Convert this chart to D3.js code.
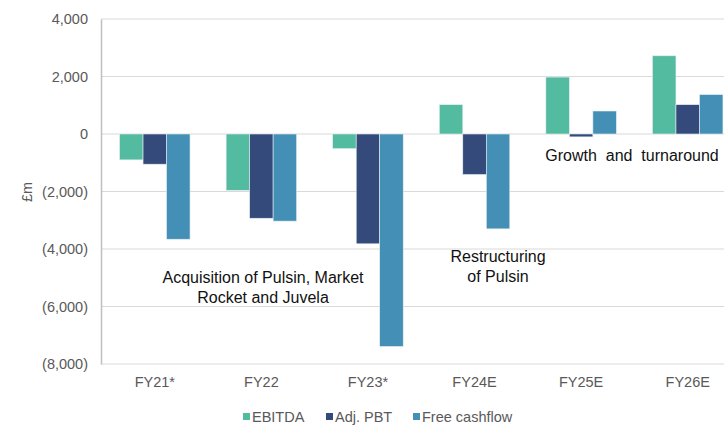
<!DOCTYPE html>
<html>
<head>
<meta charset="utf-8">
<script src="https://cdn.jsdelivr.net/npm/d3@7"></script>
<style>
body { margin: 0; background: #fff; }
svg { display: block; font-family: "Liberation Sans", Arial, sans-serif; }
</style>
</head>
<body>
<script>
var categories = ["FY21*", "FY22", "FY23*", "FY24E", "FY25E", "FY26E"];
var seriesNames = ["EBITDA", "Adj. PBT", "Free cashflow"];
var ebitda = [-900, -1960, -510, 1020, 1980, 2720];
var adjPbt = [-1050, -2930, -3820, -1410, -100, 1020];
var freeCash = [-3660, -3030, -7390, -3300, 800, 1370];
var yTicks = [4000, 2000, 0, -2000, -4000, -6000, -8000];
var colors = ["#52BBA0", "#334A7A", "#448FB5"];

var width = 724, height = 426;
var svg = d3.select("body").append("svg")
	.attr("width", width)
	.attr("height", height);

var x0 = d3.scaleBand()
	.domain(categories)
	.range([101.5, 741]);
var x1 = d3.scaleBand()
	.domain(seriesNames)
	.range([0, 70.5]);
var y = d3.scaleLinear()
	.domain([-8000, 4000])
	.range([364, 19]);

var fmt = function (d) {
	var s = d3.format(",")(Math.abs(d));
	return d < 0 ? "(" + s + ")" : s;
};

// gridlines
svg.append("g")
	.selectAll("line")
	.data(yTicks)
	.join("line")
	.attr("x1", 101)
	.attr("x2", width)
	.attr("y1", function (d) { return y(d); })
	.attr("y2", function (d) { return y(d); })
	.attr("stroke", "#d9d9d9")
	.attr("stroke-width", 1);

// y axis
var yAxis = svg.append("g")
	.attr("transform", "translate(101,0)")
	.call(d3.axisLeft(y).tickValues(yTicks).tickFormat(fmt).tickSize(0).tickPadding(13));
yAxis.select(".domain").attr("stroke", "#bfbfbf").attr("stroke-width", 1.5);
yAxis.selectAll("text")
	.attr("fill", "#595959")
	.attr("font-size", "14.5px")
	.attr("font-family", "Liberation Sans, Arial, sans-serif");

svg.append("text")
	.attr("transform", "translate(32,192) rotate(-90)")
	.attr("text-anchor", "middle")
	.attr("fill", "#595959")
	.attr("font-size", "14.5px")
	.text("£m");

// bars
var rows = categories.map(function (c, i) {
	return { cat: c, values: [ebitda[i], adjPbt[i], freeCash[i]] };
});
var cx0 = x0.bandwidth() / 2 - x1.range()[1] / 2;

svg.append("g")
	.selectAll("g")
	.data(rows)
	.join("g")
	.attr("transform", function (d) { return "translate(" + (x0(d.cat) + cx0) + ",0)"; })
	.selectAll("rect")
	.data(function (d) { return d.values.map(function (v, j) { return { name: seriesNames[j], v: v, j: j }; }); })
	.join("rect")
	.attr("x", function (d) { return x1(d.name); })
	.attr("width", x1.bandwidth())
	.attr("y", function (d) { return y(Math.max(0, d.v)); })
	.attr("height", function (d) { return Math.abs(y(d.v) - y(0)); })
	.attr("fill", function (d) { return colors[d.j]; })
	.attr("stroke", "#e8eef2")
	.attr("stroke-width", 0.6);

// x axis labels
var xAxis = svg.append("g")
	.attr("transform", "translate(0,364)")
	.call(d3.axisBottom(x0).tickSize(0).tickPadding(13));
xAxis.select(".domain").remove();
xAxis.selectAll("text")
	.attr("fill", "#595959")
	.attr("font-size", "14.5px")
	.attr("font-family", "Liberation Sans, Arial, sans-serif");

// annotations
var notes = [
	{ x: 263, y: 283, lines: ["Acquisition of Pulsin, Market", "Rocket and Juvela"] },
	{ x: 498, y: 262, lines: ["Restructuring", "of Pulsin"] },
	{ x: 632, y: 161, lines: ["Growth  and  turnaround"] }
];
notes.forEach(function (n) {
	var t = svg.append("text")
		.attr("text-anchor", "middle")
		.attr("fill", "#111")
		.attr("font-size", "16px")
		.style("white-space", "pre");
	n.lines.forEach(function (l, i) {
		t.append("tspan")
			.attr("x", n.x)
			.attr("y", n.y + i * 19.5)
			.text(l);
	});
});

// legend
var legendX = [243, 326, 413];
var leg = svg.append("g");
seriesNames.forEach(function (s, i) {
	leg.append("rect")
		.attr("x", legendX[i])
		.attr("y", 413)
		.attr("width", 7)
		.attr("height", 7)
		.attr("fill", colors[i]);
	leg.append("text")
		.attr("x", legendX[i] + 9)
		.attr("y", 422)
		.attr("fill", "#595959")
		.attr("font-size", "14.5px")
		.text(s);
});
</script>
</body>
</html>
